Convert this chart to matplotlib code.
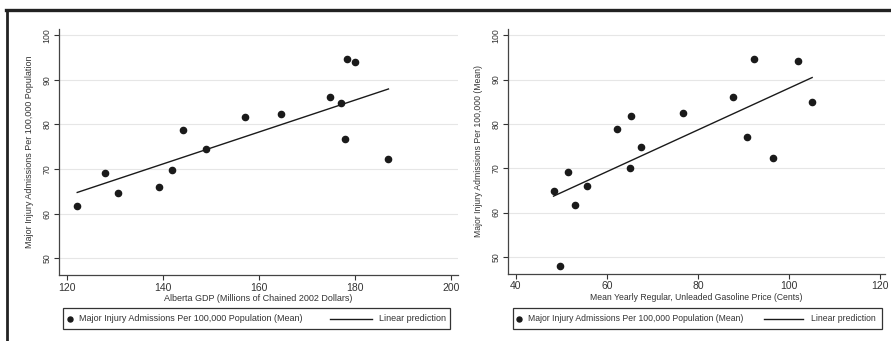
import numpy as np
import matplotlib
matplotlib.use('Agg')
import matplotlib.pyplot as plt
from matplotlib.lines import Line2D
from matplotlib.patches import Rectangle

plt.rcParams['font.family'] = ['Liberation Sans', 'DejaVu Sans']

# left panel: Alberta GDP vs injury admissions
gdp = [122.1, 127.8, 130.5, 139.1, 141.8, 144.2, 148.9, 157.1, 164.6,
       174.9, 177.2, 178.4, 180.1, 177.9, 187.0]
injury_gdp = [61.7, 69.05, 64.6, 65.9, 69.9, 78.8, 74.6, 81.7, 82.4,
              86.1, 84.9, 94.6, 94.0, 76.8, 72.2]

# right panel: gasoline price vs injury admissions
gas = [48.3, 49.7, 51.5, 53.0, 55.7, 62.3, 65.0, 65.4, 67.6, 76.8,
       87.7, 90.9, 92.4, 96.4, 102.1, 105.1]
injury_gas = [64.8, 47.9, 69.1, 61.8, 66.0, 78.8, 70.0, 81.8, 74.7, 82.4,
              86.1, 77.0, 94.6, 72.2, 94.1, 84.9]

y_ticks = [50, 60, 70, 80, 90, 100]
gdp_ticks = [120, 140, 160, 180, 200]
gas_ticks = [40, 60, 80, 100, 120]

scatter_label = 'Major Injury Admissions Per 100,000 Population (Mean)'
line_label = 'Linear prediction'

W, H = 891, 341
DARK = '#1a1a1a'
TXT = '#333333'
fig = plt.figure(figsize=(W / 100, H / 100), dpi=100)
tf = fig.transFigure

def fx(px):
    return px / W

def fy(py):
    return 1 - py / H

def legend_box(x0, x1, y0, y1, marker_x, text_x, line_x0, line_x1, text2_x, fs):
    yc = fy((y0 + y1) / 2)
    fig.add_artist(Rectangle((fx(x0), fy(y1)), fx(x1) - fx(x0), fy(y0) - fy(y1),
                             transform=tf, fill=False, edgecolor=TXT, lw=0.9))
    fig.add_artist(Line2D([fx(marker_x)], [yc], marker='o', ms=3.6, color=DARK,
                          transform=tf))
    fig.text(fx(text_x), yc, scatter_label, fontsize=fs, color=TXT, va='center')
    fig.add_artist(Line2D([fx(line_x0), fx(line_x1)], [yc, yc], color=DARK, lw=1.0,
                          transform=tf))
    fig.text(fx(text2_x), yc, line_label, fontsize=fs, color=TXT, va='center')

def panel(rect, x, y, xlim, xticks, xlabel, ylabel, fs):
    ax = fig.add_axes(rect)
    ax.scatter(x, y, s=20, color=DARK, zorder=3, label=scatter_label)
    b, a = np.polyfit(x, y, 1)
    xs = np.array([min(x), max(x)])
    ax.plot(xs, a + b * xs, color=DARK, lw=1.0, zorder=2, label=line_label)
    ax.set_xlim(*xlim)
    ax.set_ylim(46.25, 101.4)
    ax.set_xticks(xticks)
    ax.set_yticks(y_ticks)
    ax.yaxis.grid(True, color='#e6e6e6', lw=0.8)
    ax.set_axisbelow(True)
    for s in ['top', 'right']:
        ax.spines[s].set_visible(False)
    for s in ['left', 'bottom']:
        ax.spines[s].set_color('#444444')
        ax.spines[s].set_linewidth(0.9)
    ax.tick_params(colors=TXT, length=3.5, width=0.8)
    ax.tick_params(axis='x', labelsize=7.5, pad=2)
    ax.tick_params(axis='y', labelsize=6.3, pad=2)
    for lab in ax.get_yticklabels():
        lab.set_rotation(90)
        lab.set_va('center')
    ax.set_xlabel(xlabel, fontsize=fs, color=TXT, labelpad=1)
    ax.set_ylabel(ylabel, fontsize=fs, color=TXT, labelpad=6)
    return ax

panel([fx(59), 1 - 275 / H, (458 - 59) / W, (275 - 29) / H],
      gdp, injury_gdp, (118.3, 201.5), gdp_ticks,
      'Alberta GDP (Millions of Chained 2002 Dollars)',
      'Major Injury Admissions Per 100,000 Population', 6.5)
legend_box(63, 450, 308, 329, 70, 79, 330, 372, 379, 6.5)

panel([fx(508), 1 - 273.5 / H, (885 - 508) / W, (273.5 - 29) / H],
      gas, injury_gas, (38.3, 121.1), gas_ticks,
      'Mean Yearly Regular, Unleaded Gasoline Price (Cents)',
      'Major Injury Admissions Per 100,000 (Mean)', 6.2)
legend_box(513, 882, 308, 329, 519, 528, 764, 803, 811, 6.2)

# outer frame (top and left edges visible)
fig.add_artist(Line2D([fx(6), 1], [fy(10), fy(10)], color='#222222', lw=2.4, transform=tf))
fig.add_artist(Line2D([fx(7), fx(7)], [0, fy(10)], color='#222222', lw=2.0, transform=tf))

fig.savefig('out.png', dpi=100)
